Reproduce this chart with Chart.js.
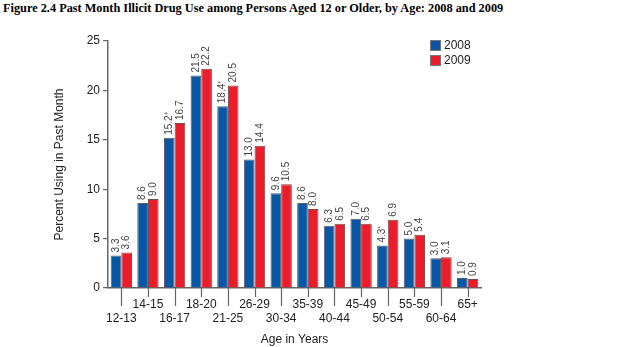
<!DOCTYPE html>
<html>
<head>
<meta charset="utf-8">
<script src="https://cdn.jsdelivr.net/npm/chart.js@4.4.0/dist/chart.umd.min.js"></script>
<style>
  body { margin: 0; background: #fff; }
  #wrap { position: relative; width: 617px; height: 347px; }
  #title { position: absolute; left: 3px; top: 1px; font: bold 12.3px "Liberation Serif", serif; color: #000; white-space: nowrap; }
  canvas { position: absolute; left: 0; top: 0; }
</style>
</head>
<body>
<div id="wrap">
  <div id="title">Figure 2.4 Past Month Illicit Drug Use among Persons Aged 12 or Older, by Age: 2008 and 2009</div>
  <canvas id="myChart" width="617" height="347"></canvas>
</div>
<script>
// age groups along the x axis
var ages = ['12-13', '14-15', '16-17', '18-20', '21-25', '26-29', '30-34',
            '35-39', '40-44', '45-49', '50-54', '55-59', '60-64', '65+'];
// percent using in past month
var use2008 = [3.3, 8.6, 15.2, 21.5, 18.4, 13.0, 9.6, 8.6, 6.3, 7.0, 4.3, 5.0, 3.0, 1.0];
var use2009 = [3.6, 9.0, 16.7, 22.2, 20.5, 14.4, 10.5, 8.0, 6.5, 6.5, 6.9, 5.4, 3.1, 0.9];
// 2008 estimates flagged as significantly different from 2009
var sig2008 = [false, false, true, false, true, false, false, false, false, false, true, false, false, false];
var sig2009 = [false, false, false, false, false, false, false, false, false, false, false, false, false, false];
var yTicks = [0, 5, 10, 15, 20, 25];

var blue = '#0757a6';
var red = '#ec1c2a';

// vertical value labels above bars
var barLabels = {
    id: 'barLabels',
    afterDatasetsDraw: function(chart) {
        var ctx = chart.ctx;
        var flags = [sig2008, sig2009];
        ctx.save();
        ctx.font = '10px "Liberation Sans", Arial, sans-serif';
        ctx.fillStyle = '#444';
        ctx.textAlign = 'left';
        ctx.textBaseline = 'middle';
        chart.data.datasets.forEach(function(ds, di) {
            var meta = chart.getDatasetMeta(di);
            meta.data.forEach(function(bar, i) {
                var txt = ds.data[i].toFixed(1) + (flags[di][i] ? '\u207A' : '');
                ctx.save();
                ctx.translate(bar.x, bar.y - 3);
                ctx.rotate(-Math.PI / 2);
                ctx.fillText(txt, 0, 0);
                ctx.restore();
            });
        });
        ctx.restore();
    }
};

// tick marks under x axis, long for lower row, short for upper row
var xTickMarks = {
    id: 'xTickMarks',
    afterDraw: function(chart) {
        var ctx = chart.ctx;
        var sx = chart.scales.x;
        ctx.save();
        ctx.strokeStyle = '#666';
        ctx.lineWidth = 1.2;
        ages.forEach(function(a, i) {
            var x = Math.round(sx.getPixelForTick(i)) + 0.5;
            var len = (i % 2 === 0) ? 18 : 9;
            ctx.beginPath();
            ctx.moveTo(x, sx.top);
            ctx.lineTo(x, sx.top + len);
            ctx.stroke();
        });
        ctx.restore();
    }
};

// legend box in the top right
var boxLegend = {
    id: 'boxLegend',
    afterDraw: function(chart) {
        var ctx = chart.ctx;
        ctx.save();
        ctx.font = '12px "Liberation Sans", Arial, sans-serif';
        ctx.textBaseline = 'middle';
        chart.data.datasets.forEach(function(ds, di) {
            var top = 40 + di * 15;
            ctx.fillStyle = ds.backgroundColor;
            ctx.fillRect(430, top, 10, 10);
            ctx.strokeStyle = '#777';
            ctx.lineWidth = 1;
            ctx.strokeRect(430.5, top + 0.5, 10, 10);
            ctx.fillStyle = '#222';
            ctx.fillText(ds.label, 444, top + 5.5);
        });
        ctx.restore();
    }
};

var ctx = document.getElementById('myChart');
var myChart = new Chart(ctx, {
    type: 'bar',
    data: {
        labels: ages,
        datasets: [{
            label: '2008',
            data: use2008,
            backgroundColor: blue,
            borderColor: 'rgba(50,50,60,0.8)',
            borderWidth: 1,
            categoryPercentage: 0.8,
            barPercentage: 1.0
        }, {
            label: '2009',
            data: use2009,
            backgroundColor: red,
            borderColor: 'rgba(80,30,30,0.8)',
            borderWidth: 1,
            categoryPercentage: 0.8,
            barPercentage: 1.0
        }]
    },
    plugins: [barLabels, xTickMarks, boxLegend],
    options: {
        responsive: false,
        animation: { duration: 0 },
        layout: { padding: { top: 41, left: 52, right: 136, bottom: 0 } },
        plugins: {
            legend: { display: false },
            tooltip: { enabled: false }
        },
        scales: {
            x: {
                grid: { display: false, drawTicks: false },
                border: { display: true, color: '#666', width: 1.5 },
                ticks: {
                    autoSkip: false,
                    maxRotation: 0,
                    minRotation: 0,
                    padding: 9,
                    color: '#222',
                    font: { family: '"Liberation Sans", Arial, sans-serif', size: 12, lineHeight: 1.2 },
                    callback: function(v, i) {
                        return (i % 2 === 0) ? ['', ages[i]] : [ages[i], ''];
                    }
                },
                title: {
                    display: true,
                    text: 'Age in Years',
                    color: '#222',
                    padding: { top: 0, bottom: 0 },
                    font: { family: '"Liberation Sans", Arial, sans-serif', size: 12 }
                },
                afterFit: function(scale) { scale.height = 59; }
            },
            y: {
                min: 0,
                max: 25,
                afterBuildTicks: function(scale) {
                    scale.ticks = yTicks.map(function(v) { return { value: v }; });
                },
                grid: { display: true, drawOnChartArea: false, drawTicks: true, tickLength: 5, color: '#666', lineWidth: 1.2 },
                border: { display: true, color: '#666', width: 1.5 },
                ticks: {
                    padding: 3,
                    color: '#222',
                    font: { family: '"Liberation Sans", Arial, sans-serif', size: 12 }
                },
                title: {
                    display: true,
                    text: 'Percent Using in Past Month',
                    color: '#222',
                    padding: 0,
                    font: { family: '"Liberation Sans", Arial, sans-serif', size: 12 }
                },
                afterFit: function(scale) { scale.width = 56; }
            }
        }
    }
});
</script>
</body>
</html>
